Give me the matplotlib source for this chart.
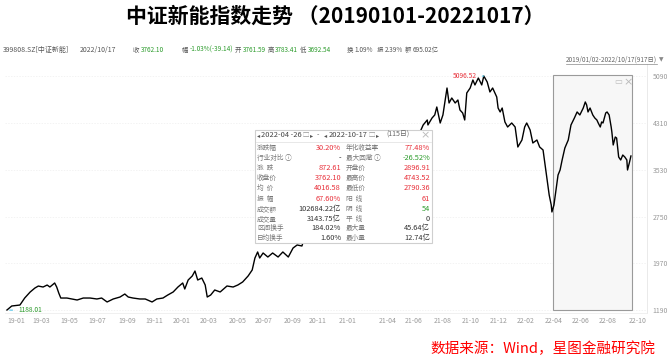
import matplotlib
matplotlib.use("Agg")
import matplotlib.pyplot as plt
from matplotlib.patches import Rectangle
from matplotlib.lines import Line2D

plt.rcParams['font.family'] = ['Noto Sans CJK SC', 'DejaVu Sans']

# 交易日序号（2019-01-02 = 0）と終値
day_no = [0, 7, 19, 26, 34, 41, 46, 53, 59, 63, 70, 73, 76, 79, 88, 95, 103, 112, 122,
          132, 139, 147, 156, 166, 173, 178, 185, 195, 203, 213, 220, 229, 236, 244,
          251, 258, 261, 266, 272, 276, 280, 286, 291, 294, 299, 305, 313, 323, 332,
          339, 346, 354, 360, 364, 368, 371, 376, 383, 390, 398, 405, 413, 420, 426,
          433, 445, 459, 474, 489, 504, 514, 526, 536, 548, 562, 577, 592, 604, 611,
          617, 618, 624, 628, 631, 636, 640, 646, 649, 653, 658, 662, 665, 669, 672,
          675, 680, 684, 687, 692, 697, 700, 705, 709, 713, 719, 721, 724, 727, 731,
          735, 741, 746, 750, 756, 760, 763, 768, 772, 778, 782, 787, 790, 793, 796,
          799, 800, 803, 806, 809, 812, 815, 819, 824, 828, 833, 837, 841, 846, 849,
          851, 853, 856, 860, 863, 866, 868, 871, 873, 875, 879, 881, 884, 887, 888,
          890, 893, 895, 898, 901, 904, 907, 910, 911, 914, 916]
close = [1190, 1257, 1273, 1390, 1490, 1557, 1590, 1574, 1607, 1574, 1641, 1574, 1474,
         1390, 1390, 1374, 1357, 1390, 1390, 1374, 1390, 1324, 1374, 1407, 1457, 1407,
         1390, 1374, 1374, 1324, 1374, 1390, 1440, 1491, 1574, 1641, 1541, 1691, 1758,
         1841, 1691, 1724, 1608, 1407, 1440, 1524, 1491, 1591, 1574, 1608, 1658, 1758,
         1858, 2058, 2159, 2058, 2142, 2075, 2142, 2075, 2159, 2075, 2225, 2276, 2259,
         2700, 3000, 3300, 3550, 3800, 3950, 3400, 3100, 3300, 3350, 3600, 3900, 4100,
         4280, 4363, 4280, 4396, 4447, 4580, 4313, 4447, 4897, 4647, 4730, 4647, 4697,
         4530, 4480, 4363, 4814, 4897, 5031, 4948, 5064, 4948, 5097, 4998, 4831, 4897,
         4747, 4563, 4497, 4563, 4330, 4246, 4313, 4246, 3912, 4029, 4246, 4313, 4196,
         3979, 4029, 3912, 3862, 3612, 3361, 3111, 2944, 2827, 2944, 3194, 3444, 3528,
         3695, 3895, 4029, 4280, 4396, 4497, 4447, 4563, 4664, 4614, 4497, 4563, 4447,
         4396, 4363, 4313, 4246, 4330, 4313, 4480, 4497, 4447, 4246, 4163, 3946, 4079,
         4062, 3745, 3695, 3778, 3745, 3695, 3528, 3662, 3762]

month_pos = [0, 37, 78, 120, 164, 203, 244, 283, 326, 364, 407, 443, 487, 546, 584,
             627, 668, 709, 749, 790, 829, 869, 913]
month_labels = ['19-01', '19-03', '19-05', '19-07', '19-09', '19-11', '20-01', '20-03',
                '20-05', '20-07', '20-09', '20-11', '21-01', '21-04', '21-06', '21-08',
                '21-10', '21-12', '22-02', '22-04', '22-06', '22-08', '22-10']
y_ticks = [1190, 1970, 2750, 3530, 4310, 5090]

sel_start, sel_end = 801, 917
peak_day, peak_val = 700, 5096.52
low_day, low_val = 0, 1188.01

info_items = [("收", "3762.10"), ("幅", "-1.03%(-39.14)"), ("开", "3761.59"),
              ("高", "3783.41"), ("低", "3692.54"), ("换", "1.09%"),
              ("振", "2.39%"), ("额", "695.02亿")]

stats_left = [("涨跌幅", "30.20%"), ("行业对比 ⓘ", "-"), ("涨  跌", "872.61"),
              ("收盘价", "3762.10"), ("均  价", "4016.58"), ("振  幅", "67.60%"),
              ("成交额", "102684.22亿"), ("成交量", "3143.75亿"), ("区间换手", "184.02%"),
              ("日均换手", "1.60%")]
stats_right = [("年化收益率", "77.48%"), ("最大回撤 ⓘ", "-26.52%"), ("开盘价", "2896.91"),
               ("最高价", "4743.52"), ("最低价", "2790.36"), ("阳  线", "61"),
               ("阴  线", "54"), ("平  线", "0"), ("最大量", "45.64亿"), ("最小量", "12.74亿")]

RED = '#e8303a'
GREEN = '#2b9b2b'
GRAY = '#9a9a9a'
TXT = '#777777'

W, H = 670, 358
fig = plt.figure(figsize=(W / 100, H / 100), dpi=100)
renderer = fig.canvas.get_renderer()


def fx(x):
    return x / W


def fy(y):
    return 1 - y / H


def chain(parts, y, gap=1.5, **kw):
    # 前の文字の右端より左に来ないように順に置く
    end = 0
    for x, s, fs, c in parts:
        x0 = max(x, end + gap)
        t = fig.text(fx(x0), fy(y), s, fontsize=fs, color=c, va='center', **kw)
        bb = t.get_window_extent(renderer)
        end = bb.x1


# タイトル
fig.text(fx(335), fy(16), "中证新能指数走势 （20190101-20221017）", ha='center', va='center',
         fontsize=15, fontweight='bold', color='black')

# 上部の情報行
info_x = [133, 182, 227, 263, 298, 347, 377, 405]
parts = [(3, "399808.SZ[中证新能]", 5.0, '#555555'), (80, "2022/10/17", 5.0, '#555555')]
for (lab, val), x in zip(info_items, info_x):
    col = GREEN if lab not in ("换", "振", "额") else '#555555'
    parts.append((x, lab, 4.6, '#555555'))
    parts.append((x + 6.5, val, 4.6, col))
chain(parts, 50, gap=1.5)

fig.text(fx(566), fy(60), "2019/01/02-2022/10/17(917日)", fontsize=4.6, color='#666666',
         va='center')
fig.add_artist(Line2D([fx(566), fx(657)], [fy(64), fy(64)], color='#888888', lw=0.5))
fig.text(fx(659), fy(60), "▼", fontsize=4.2, color='#888888', va='center',
         family=['DejaVu Sans'])

# メインの軸
ax = fig.add_axes([fx(5), fy(313), (647 - 5) / W, (313 - 64) / H])
ax.set_xlim(-2.9, 939.6)
ax.set_ylim(1140, 5298)

ax.add_patch(Rectangle((sel_start, 1190), sel_end - sel_start, 5114 - 1190,
                       facecolor='#f7f7f7', edgecolor='#9a9a9a', lw=0.8, zorder=1))
ax.plot(day_no, close, color='black', lw=1.0, zorder=3)

for v in y_ticks:
    ax.axhline(v, color='#eeeeee', lw=0.5, ls=(0, (2, 2)), zorder=0)

ax.yaxis.tick_right()
ax.set_yticks(y_ticks)
ax.set_yticklabels([str(v) for v in y_ticks])
ax.set_xticks(month_pos)
ax.set_xticklabels(month_labels, ha='left')
ax.tick_params(axis='both', length=0, labelsize=5.0, labelcolor=GRAY)
ax.tick_params(axis='y', pad=4)
ax.tick_params(axis='x', pad=3)
for side in ('left', 'top'):
    ax.spines[side].set_visible(False)
ax.spines['right'].set_color('#e6e6e6')
ax.spines['bottom'].set_color('#eeeeee')
ax.spines['right'].set_linewidth(0.6)
ax.spines['bottom'].set_linewidth(0.6)

# 最高・最低の注記
ax.annotate(f"{peak_val:.2f}", xy=(peak_day, peak_val), xytext=(-5, 0),
            textcoords='offset points', ha='right', va='center', fontsize=4.8, color=RED,
            arrowprops=dict(arrowstyle='-', color='#4fc3e8', lw=0.8))
ax.annotate(f"{low_val:.2f}", xy=(low_day, low_val), xytext=(8, 0),
            textcoords='offset points', ha='left', va='center', fontsize=4.8, color=GREEN,
            arrowprops=dict(arrowstyle='-', color='#4fc3e8', lw=0.8))

# 選択枠のアイコン
fig.text(fx(614), fy(82), "▭", fontsize=6, color='#bbbbbb', va='center',
         family=['DejaVu Sans'])
fig.text(fx(623), fy(82), "×", fontsize=8, color='#bbbbbb', va='center',
         family=['DejaVu Sans'])

# 区間統計のツールチップ
fig.add_artist(Rectangle((fx(255), fy(243)), 177 / W, 113 / H, facecolor='white',
                         edgecolor='#cfcfcf', lw=0.8, zorder=5))
fig.add_artist(Line2D([fx(256), fx(431)], [fy(142), fy(142)], color='#e4e4e4', lw=0.6,
                      zorder=6))
hdr_parts = [(257, "◂", 4.5, '#555555'), (261, "2022-04 -26", 5.4, '#444444'),
             (303, "▢", 4.5, '#999999'), (310, "▸", 4.5, '#555555'),
             (317, "-", 5, '#555555'), (324, "◂", 4.5, '#555555'),
             (329, "2022-10-17", 5.4, '#444444'), (367, "▢", 4.5, '#999999'),
             (375, "▸", 4.5, '#555555'), (386, "(115日)", 5.0, '#666666')]
chain(hdr_parts, 135, gap=1.0, zorder=7)
fig.text(fx(420), fy(135), "×", fontsize=8, color='#bbbbbb', va='center', zorder=7,
         family=['DejaVu Sans'])

row_y = [148, 158, 168, 178, 188, 199, 209, 219, 228, 238]
left_col = [RED, 'black', RED, RED, RED, RED, '#333333', '#333333', '#333333', '#333333']
right_col = [RED, GREEN, RED, RED, RED, RED, GREEN, '#333333', '#333333', '#333333']
for i, y in enumerate(row_y):
    l_lab, l_val = stats_left[i]
    r_lab, r_val = stats_right[i]
    fig.text(fx(257), fy(y), l_lab, fontsize=4.8, color=TXT, va='center', zorder=7)
    fig.text(fx(341), fy(y), l_val, fontsize=5.3, color=left_col[i], va='center',
             ha='right', zorder=7)
    fig.text(fx(346), fy(y), r_lab, fontsize=4.8, color=TXT, va='center', zorder=7)
    fig.text(fx(430), fy(y), r_val, fontsize=5.3, color=right_col[i], va='center',
             ha='right', zorder=7)

# 出所
fig.text(fx(655), fy(349), "数据来源：Wind，星图金融研究院", ha='right', va='center',
         fontsize=10.5, color='#ff0000', style='italic')

fig.savefig("out.png", dpi=100)
